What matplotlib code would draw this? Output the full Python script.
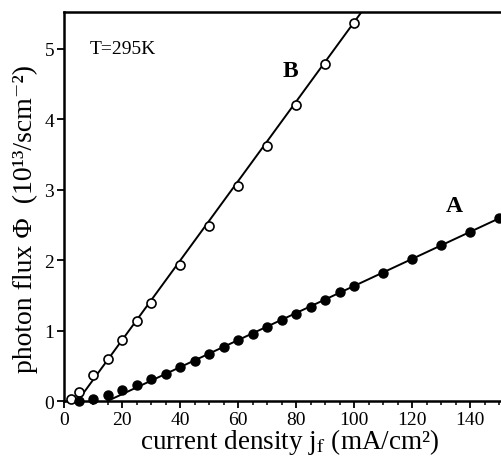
import numpy as np
import matplotlib.pyplot as plt
from matplotlib.ticker import MultipleLocator

# datos
jB = [2.5, 5, 10, 15, 20, 25, 30, 40, 50, 60, 70, 80, 90, 100]
phiB = [0.03, 0.13, 0.37, 0.60, 0.86, 1.14, 1.39, 1.93, 2.48, 3.05, 3.62, 4.20, 4.78, 5.37]

jA = [5, 10, 15, 20, 25, 30, 35, 40, 45, 50, 55, 60, 65, 70, 75, 80, 85, 90, 95, 100,
      110, 120, 130, 140, 150]
phiA = [0.0, 0.03, 0.08, 0.16, 0.23, 0.31, 0.39, 0.48, 0.57, 0.66, 0.76, 0.86, 0.95,
        1.05, 1.15, 1.24, 1.33, 1.43, 1.54, 1.63, 1.82, 2.01, 2.21, 2.40, 2.60]

# rectas de ajuste (x0 = corte con el eje, pendiente)
fitB = (4.7, 0.0564)
fitA = (15.0, 0.0192)

plt.rcParams['font.family'] = ['Liberation Serif', 'DejaVu Serif']
plt.rcParams['mathtext.fontset'] = 'stix'

fig = plt.figure(figsize=(5.02, 4.64), dpi=100)
ax = fig.add_axes([0.1275, 0.1336, 0.8725, 0.8384])

xB = np.array([fitB[0], 110])
ax.plot(xB, fitB[1] * (xB - fitB[0]), color='black', lw=1.4)
xA = np.array([fitA[0], 151])
ax.plot(xA, fitA[1] * (xA - fitA[0]), color='black', lw=1.4)

ax.plot(jB, phiB, 'o', mfc='white', mec='black', mew=1.2, ms=6.5, clip_on=False, zorder=3)
ax.plot(jA, phiA, 'o', mfc='black', mec='black', ms=6.5, clip_on=False, zorder=3)

ax.set_xlim(0, 151)
ax.set_ylim(0, 5.52)
ax.xaxis.set_major_locator(MultipleLocator(20))
ax.xaxis.set_minor_locator(MultipleLocator(5))
ax.yaxis.set_major_locator(MultipleLocator(1))
ax.tick_params(which='major', direction='out', length=5, width=1.3, labelsize=14, pad=2)
ax.tick_params(which='minor', direction='out', length=3, width=1.1)
ax.tick_params(axis='y', which='minor', left=False)
for s in ax.spines.values():
    s.set_linewidth(1.8)
ax.spines['right'].set_visible(False)

ax.set_xlabel(r'current density j$_{\rm f}$ (mA/cm²)', fontsize=19.5)
ax.xaxis.set_label_coords(0.516, -0.065)
ax.set_ylabel('photon flux Φ  (10¹³/scm⁻²)', fontsize=20)
ax.yaxis.set_label_coords(-0.06, 0.47)

ax.text(9, 5.0, 'T=295K', fontsize=14, ha='left', va='center')
ax.text(78, 4.69, 'B', fontsize=17, fontweight='bold', ha='center', va='center')
ax.text(134.5, 2.77, 'A', fontsize=17, fontweight='bold', ha='center', va='center')

plt.savefig('out.png', dpi=100)
